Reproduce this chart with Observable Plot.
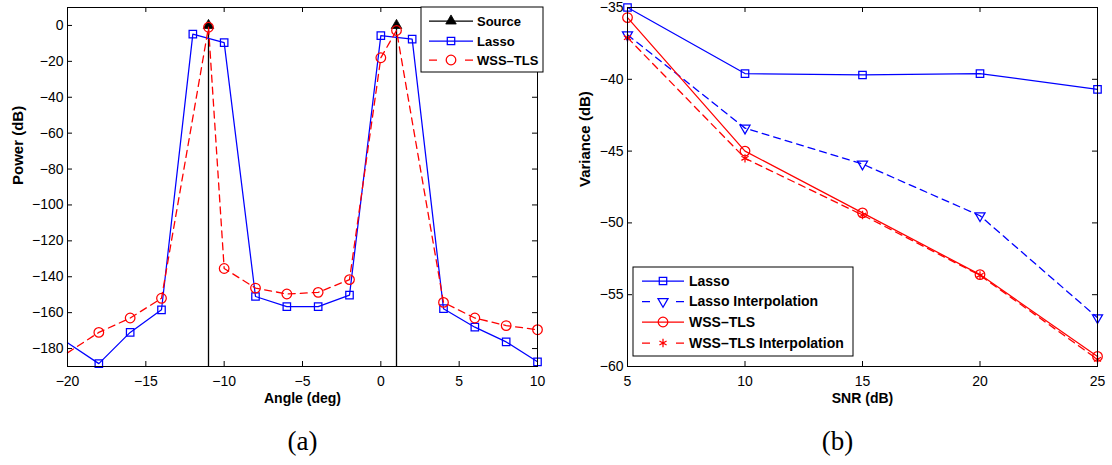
<!DOCTYPE html>
<html><head><meta charset="utf-8">
<script src="https://cdn.jsdelivr.net/npm/d3@7"></script>
<script src="https://cdn.jsdelivr.net/npm/@observablehq/plot@0.6"></script>
<style>
body{margin:0;background:#fff;}
#wrap{position:relative;width:1112px;height:465px;overflow:hidden;background:#fff;font-family:"Liberation Sans",Arial,sans-serif;}
#wrap > svg{position:absolute;top:0;}
</style></head><body><div id="wrap"></div>
<script>
// ---------- Panel (a) data ----------
const sourceAngles = [-11, 1];
const sourcePower = [0, 0];
const lassoAngles = [-20, -18, -16, -14, -12, -10, -8, -6, -4, -2, 0, 2, 4, 6, 8, 10];
const lassoPower  = [-176.8, -188.4, -171, -158.4, -4.8, -9.6, -151, -156.6, -156.6, -150.2, -5.7, -7.6, -157.8, -168.1, -176.3, -187.4];
const wssAngles = [-20, -18, -16, -14, -11, -10, -8, -6, -4, -2, 0, 1, 4, 6, 8, 10];
const wssPower  = [-182.4, -171, -163, -152, -1, -135.4, -146.3, -149.6, -148.7, -141.6, -18, -2.8, -154.3, -163, -167.2, -169.5];
const angleTicks = [-20, -15, -10, -5, 0, 5, 10];
const powerTicks = [-180, -160, -140, -120, -100, -80, -60, -40, -20, 0];
const angleDomain = [-20, 10];
const powerDomain = [-190, 10];

// ---------- Panel (b) data ----------
const snr = [5, 10, 15, 20, 25];
const lassoVar       = [-35.0, -39.6, -39.7, -39.6, -40.7];
const lassoInterpVar = [-36.9, -43.4, -45.9, -49.5, -56.6];
const wssVar         = [-35.7, -45.0, -49.3, -53.6, -59.3];
const wssInterpVar   = [-37.1, -45.5, -49.45, -53.65, -59.5];
const snrTicks = [5, 10, 15, 20, 25];
const varTicks = [-60, -55, -50, -45, -40, -35];
const snrDomain = [5, 25];
const varDomain = [-60, -35];

const BLUE = "#0000ff", RED = "#ff0000";
const H = 465, MT = 7, MB = 99, W = 556;
const FONT = "Liberation Sans, Arial, sans-serif";

const zipA = (xs, ys) => xs.map((x, i) => ({x, y: ys[i]}));
const source = zipA(sourceAngles, sourcePower);
const lasso = zipA(lassoAngles, lassoPower);
const wss = zipA(wssAngles, wssPower);

function inwardTicks(xt, yt, iw, ih) {
  return [
    Plot.ruleX(xt, {x: d => d, insetTop: ih - 5, stroke: "black"}),
    Plot.ruleX(xt, {x: d => d, insetBottom: ih - 5, stroke: "black"}),
    Plot.ruleY(yt, {y: d => d, insetRight: iw - 5, stroke: "black"}),
    Plot.ruleY(yt, {y: d => d, insetLeft: iw - 5, stroke: "black"})
  ];
}

const mlA = 67, mrA = 19;
const plotA = Plot.plot({
  width: W, height: H, marginLeft: mlA, marginRight: mrA, marginTop: MT, marginBottom: MB,
  style: {fontFamily: FONT, fontSize: "14px", color: "black", background: "transparent", overflow: "visible"},
  x: {domain: angleDomain},
  y: {domain: powerDomain},
  marks: [
    Plot.axisX(angleTicks, {tickSize: 0, tickPadding: 10, label: null, fontSize: 14}),
    Plot.axisY(powerTicks, {tickSize: 0, tickPadding: 4, label: null, fontSize: 14}),
    ...inwardTicks(angleTicks, powerTicks, W - mlA - mrA, H - MT - MB),
    Plot.ruleX(source, {x: "x", y1: powerDomain[0], y2: "y", stroke: "black", strokeWidth: 1.3}),
    Plot.dot(source, {x: "x", y: "y", symbol: "triangle", r: 3.9, fill: "black", stroke: "black", strokeWidth: 0.8}),
    Plot.line(lasso, {x: "x", y: "y", stroke: BLUE, strokeWidth: 1.25}),
    Plot.dot(lasso.filter(d => d.x > angleDomain[0]), {x: "x", y: "y", symbol: "square", r: 4.2, stroke: BLUE, strokeWidth: 1.25}),
    Plot.line(wss, {x: "x", y: "y", stroke: RED, strokeWidth: 1.3, strokeDasharray: "7,5"}),
    Plot.dot(wss.filter(d => d.x > angleDomain[0]), {x: "x", y: "y", symbol: "circle", r: 4.8, stroke: RED, strokeWidth: 1.25}),
    Plot.frame({stroke: "black", strokeWidth: 1}),
    Plot.text(["Angle (deg)"], {text: d => d, frameAnchor: "bottom", dy: 36, fontWeight: "bold", fontSize: 14}),
    Plot.text(["Power (dB)"], {text: d => d, frameAnchor: "left", rotate: -90, dx: -49, dy: -2, fontWeight: "bold", fontSize: 15}),
    Plot.text(["(a)"], {text: d => d, frameAnchor: "bottom", dy: 83, fontSize: 27, fontFamily: "Liberation Serif, serif"})
  ]
});

const zipB = ys => snr.map((x, i) => ({x, y: ys[i]}));
const mlB = 71, mrB = 15;
const plotB = Plot.plot({
  width: W, height: H, marginLeft: mlB, marginRight: mrB, marginTop: MT, marginBottom: MB,
  style: {fontFamily: FONT, fontSize: "14px", color: "black", background: "transparent", overflow: "visible"},
  x: {domain: snrDomain},
  y: {domain: varDomain},
  marks: [
    Plot.axisX(snrTicks, {tickSize: 0, tickPadding: 10, label: null, fontSize: 14}),
    Plot.axisY(varTicks, {tickSize: 0, tickPadding: 4, label: null, fontSize: 14}),
    ...inwardTicks(snrTicks, varTicks, W - mlB - mrB, H - MT - MB),
    Plot.line(zipB(lassoVar), {x: "x", y: "y", stroke: BLUE, strokeWidth: 1.25}),
    Plot.dot(zipB(lassoVar), {x: "x", y: "y", symbol: "square", r: 4.2, stroke: BLUE, strokeWidth: 1.25}),
    Plot.line(zipB(lassoInterpVar), {x: "x", y: "y", stroke: BLUE, strokeWidth: 1.3, strokeDasharray: "7,5"}),
    Plot.dot(zipB(lassoInterpVar), {x: "x", y: "y", symbol: "triangle2", rotate: 180, r: 4.8, stroke: BLUE, strokeWidth: 1.25}),
    Plot.line(zipB(wssVar), {x: "x", y: "y", stroke: RED, strokeWidth: 1.25}),
    Plot.dot(zipB(wssVar), {x: "x", y: "y", symbol: "circle", r: 4.8, stroke: RED, strokeWidth: 1.25}),
    Plot.line(zipB(wssInterpVar), {x: "x", y: "y", stroke: RED, strokeWidth: 1.3, strokeDasharray: "7,5"}),
    Plot.dot(zipB(wssInterpVar), {x: "x", y: "y", symbol: "asterisk", r: 3.9, stroke: RED, strokeWidth: 1.25}),
    Plot.frame({stroke: "black", strokeWidth: 1}),
    Plot.text(["SNR (dB)"], {text: d => d, frameAnchor: "bottom", dy: 36, fontWeight: "bold", fontSize: 14}),
    Plot.text(["Variance (dB)"], {text: d => d, frameAnchor: "left", rotate: -90, dx: -42, fontWeight: "bold", fontSize: 15}),
    Plot.text(["(b)"], {text: d => d, frameAnchor: "bottom", dy: 83, dx: -25, fontSize: 27, fontFamily: "Liberation Serif, serif"})
  ]
});

const wrap = document.getElementById("wrap");
plotA.style.left = "0px";
plotB.style.left = W + "px";
wrap.appendChild(plotA);
wrap.appendChild(plotB);

// ---------- Legends (overlay) ----------
const ov = d3.select(wrap).append("svg")
  .attr("width", 1112).attr("height", 465)
  .style("position", "absolute").style("left", "0px").style("top", "0px")
  .style("font-family", FONT);

function legend(box, entries, opts) {
  const g = ov.append("g");
  g.append("rect").attr("x", box.x).attr("y", box.y).attr("width", box.w).attr("height", box.h)
    .attr("fill", "white").attr("stroke", "black").attr("stroke-width", 1);
  entries.forEach((e, i) => {
    const y = opts.ys[i];
    g.append("line").attr("x1", opts.x0).attr("x2", opts.x1).attr("y1", y).attr("y2", y)
      .attr("stroke", e.color).attr("stroke-width", 1.25)
      .attr("stroke-dasharray", e.dash ? opts.dash : null);
    const mx = (opts.x0 + opts.x1) / 2;
    if (e.symbol === "circle") {
      g.append("circle").attr("cx", mx).attr("cy", y).attr("r", e.r).attr("fill", "none")
        .attr("stroke", e.color).attr("stroke-width", 1.25);
    } else {
      const sym = d3.symbol(e.symbol, Math.PI * e.r * e.r);
      g.append("path").attr("d", sym())
        .attr("transform", `translate(${mx},${y})` + (e.rotate ? ` rotate(${e.rotate})` : ""))
        .attr("fill", e.fill || "none").attr("stroke", e.color).attr("stroke-width", e.fill ? 0.8 : 1.25);
    }
    g.append("text").attr("x", opts.tx).attr("y", y).attr("dy", "0.35em")
      .attr("font-weight", "bold").attr("font-size", opts.fs).attr("fill", "black").text(e.label);
  });
}

legend({x: 421, y: 7, w: 122, h: 65}, [
  {label: "Source", color: "black", symbol: d3.symbolTriangle, r: 3.9, fill: "black"},
  {label: "Lasso", color: BLUE, symbol: d3.symbolSquare, r: 4.2},
  {label: "WSS–TLS", color: RED, symbol: "circle", r: 4.8, dash: true}
], {ys: [21, 41, 60], x0: 429, x1: 473, tx: 477, fs: 13, dash: "8,28"});

legend({x: 633, y: 267, w: 220, h: 89}, [
  {label: "Lasso", color: BLUE, symbol: d3.symbolSquare, r: 4.2},
  {label: "Lasso Interpolation", color: BLUE, symbol: d3.symbolTriangle2, r: 4.8, rotate: 180, dash: true},
  {label: "WSS–TLS", color: RED, symbol: "circle", r: 4.8},
  {label: "WSS–TLS Interpolation", color: RED, symbol: d3.symbolAsterisk, r: 3.9, dash: true}
], {ys: [281, 301.5, 322, 343], x0: 642, x1: 684, tx: 689, fs: 14, dash: "8,26"});
</script></body></html>
